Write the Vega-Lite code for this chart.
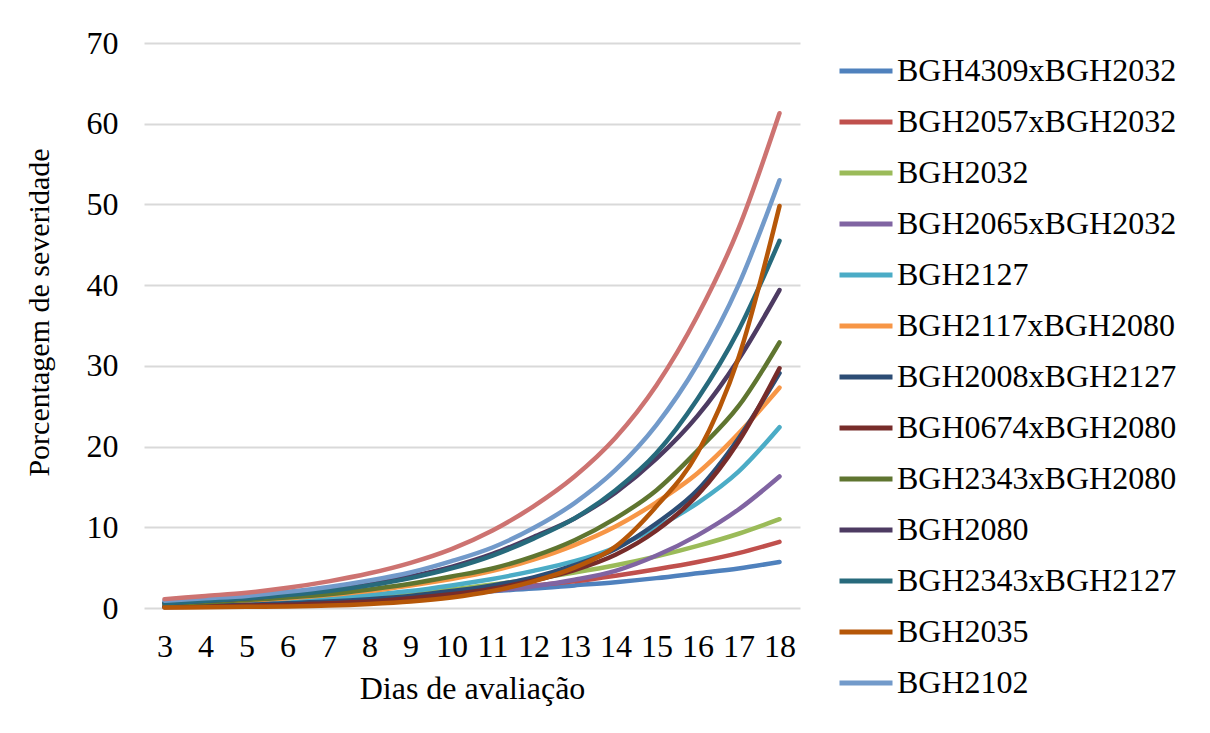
{
  "$schema": "https://vega.github.io/schema/vega-lite/v6.json",
  "width": 656,
  "height": 565,
  "autosize": "none",
  "padding": {"left": 144, "top": 43, "right": 410, "bottom": 125},
  "background": "white",
  "config": {
    "view": {"stroke": null},
    "font": "Liberation Serif",
    "axis": {"labelFont": "Liberation Serif", "titleFont": "Liberation Serif", "labelColor": "#000", "titleColor": "#000", "titleFontWeight": "normal"},
    "legend": {"labelFont": "Liberation Serif", "labelColor": "#000"}
  },
  "datasets": {
    "pts": [
      {"s":"BGH4309xBGH2032","d":3,"v":0.7},{"s":"BGH4309xBGH2032","d":4,"v":0.8},{"s":"BGH4309xBGH2032","d":5,"v":0.9},{"s":"BGH4309xBGH2032","d":6,"v":1.1},{"s":"BGH4309xBGH2032","d":7,"v":1.2},{"s":"BGH4309xBGH2032","d":8,"v":1.4},{"s":"BGH4309xBGH2032","d":9,"v":1.6},{"s":"BGH4309xBGH2032","d":10,"v":1.8},{"s":"BGH4309xBGH2032","d":11,"v":2.1},{"s":"BGH4309xBGH2032","d":12,"v":2.4},{"s":"BGH4309xBGH2032","d":13,"v":2.8},{"s":"BGH4309xBGH2032","d":14,"v":3.2},{"s":"BGH4309xBGH2032","d":15,"v":3.7},{"s":"BGH4309xBGH2032","d":16,"v":4.3},{"s":"BGH4309xBGH2032","d":17,"v":4.9},{"s":"BGH4309xBGH2032","d":18,"v":5.7},
      {"s":"BGH2057xBGH2032","d":3,"v":0.5},{"s":"BGH2057xBGH2032","d":4,"v":0.6},{"s":"BGH2057xBGH2032","d":5,"v":0.8},{"s":"BGH2057xBGH2032","d":6,"v":0.9},{"s":"BGH2057xBGH2032","d":7,"v":1.1},{"s":"BGH2057xBGH2032","d":8,"v":1.3},{"s":"BGH2057xBGH2032","d":9,"v":1.6},{"s":"BGH2057xBGH2032","d":10,"v":1.9},{"s":"BGH2057xBGH2032","d":11,"v":2.3},{"s":"BGH2057xBGH2032","d":12,"v":2.8},{"s":"BGH2057xBGH2032","d":13,"v":3.3},{"s":"BGH2057xBGH2032","d":14,"v":4.0},{"s":"BGH2057xBGH2032","d":15,"v":4.8},{"s":"BGH2057xBGH2032","d":16,"v":5.7},{"s":"BGH2057xBGH2032","d":17,"v":6.8},{"s":"BGH2057xBGH2032","d":18,"v":8.2},
      {"s":"BGH2032","d":3,"v":0.4},{"s":"BGH2032","d":4,"v":0.5},{"s":"BGH2032","d":5,"v":0.7},{"s":"BGH2032","d":6,"v":0.9},{"s":"BGH2032","d":7,"v":1.1},{"s":"BGH2032","d":8,"v":1.4},{"s":"BGH2032","d":9,"v":1.8},{"s":"BGH2032","d":10,"v":2.3},{"s":"BGH2032","d":11,"v":2.9},{"s":"BGH2032","d":12,"v":3.6},{"s":"BGH2032","d":13,"v":4.4},{"s":"BGH2032","d":14,"v":5.3},{"s":"BGH2032","d":15,"v":6.4},{"s":"BGH2032","d":16,"v":7.7},{"s":"BGH2032","d":17,"v":9.2},{"s":"BGH2032","d":18,"v":11.0},
      {"s":"BGH2065xBGH2032","d":3,"v":0.2},{"s":"BGH2065xBGH2032","d":4,"v":0.3},{"s":"BGH2065xBGH2032","d":5,"v":0.4},{"s":"BGH2065xBGH2032","d":6,"v":0.5},{"s":"BGH2065xBGH2032","d":7,"v":0.7},{"s":"BGH2065xBGH2032","d":8,"v":0.9},{"s":"BGH2065xBGH2032","d":9,"v":1.2},{"s":"BGH2065xBGH2032","d":10,"v":1.6},{"s":"BGH2065xBGH2032","d":11,"v":2.1},{"s":"BGH2065xBGH2032","d":12,"v":2.7},{"s":"BGH2065xBGH2032","d":13,"v":3.5},{"s":"BGH2065xBGH2032","d":14,"v":4.6},{"s":"BGH2065xBGH2032","d":15,"v":6.5},{"s":"BGH2065xBGH2032","d":16,"v":9.0},{"s":"BGH2065xBGH2032","d":17,"v":12.2},{"s":"BGH2065xBGH2032","d":18,"v":16.3},
      {"s":"BGH2127","d":3,"v":0.3},{"s":"BGH2127","d":4,"v":0.5},{"s":"BGH2127","d":5,"v":0.7},{"s":"BGH2127","d":6,"v":0.9},{"s":"BGH2127","d":7,"v":1.2},{"s":"BGH2127","d":8,"v":1.6},{"s":"BGH2127","d":9,"v":2.1},{"s":"BGH2127","d":10,"v":2.8},{"s":"BGH2127","d":11,"v":3.6},{"s":"BGH2127","d":12,"v":4.6},{"s":"BGH2127","d":13,"v":5.8},{"s":"BGH2127","d":14,"v":7.5},{"s":"BGH2127","d":15,"v":10.0},{"s":"BGH2127","d":16,"v":13.0},{"s":"BGH2127","d":17,"v":16.9},{"s":"BGH2127","d":18,"v":22.4},
      {"s":"BGH2117xBGH2080","d":3,"v":0.4},{"s":"BGH2117xBGH2080","d":4,"v":0.6},{"s":"BGH2117xBGH2080","d":5,"v":0.9},{"s":"BGH2117xBGH2080","d":6,"v":1.2},{"s":"BGH2117xBGH2080","d":7,"v":1.6},{"s":"BGH2117xBGH2080","d":8,"v":2.1},{"s":"BGH2117xBGH2080","d":9,"v":2.8},{"s":"BGH2117xBGH2080","d":10,"v":3.6},{"s":"BGH2117xBGH2080","d":11,"v":4.6},{"s":"BGH2117xBGH2080","d":12,"v":6.0},{"s":"BGH2117xBGH2080","d":13,"v":7.8},{"s":"BGH2117xBGH2080","d":14,"v":10.1},{"s":"BGH2117xBGH2080","d":15,"v":13.1},{"s":"BGH2117xBGH2080","d":16,"v":16.7},{"s":"BGH2117xBGH2080","d":17,"v":21.6},{"s":"BGH2117xBGH2080","d":18,"v":27.3},
      {"s":"BGH2008xBGH2127","d":3,"v":0.2},{"s":"BGH2008xBGH2127","d":4,"v":0.3},{"s":"BGH2008xBGH2127","d":5,"v":0.4},{"s":"BGH2008xBGH2127","d":6,"v":0.6},{"s":"BGH2008xBGH2127","d":7,"v":0.8},{"s":"BGH2008xBGH2127","d":8,"v":1.1},{"s":"BGH2008xBGH2127","d":9,"v":1.5},{"s":"BGH2008xBGH2127","d":10,"v":2.1},{"s":"BGH2008xBGH2127","d":11,"v":2.8},{"s":"BGH2008xBGH2127","d":12,"v":3.8},{"s":"BGH2008xBGH2127","d":13,"v":5.3},{"s":"BGH2008xBGH2127","d":14,"v":7.3},{"s":"BGH2008xBGH2127","d":15,"v":10.5},{"s":"BGH2008xBGH2127","d":16,"v":14.6},{"s":"BGH2008xBGH2127","d":17,"v":21.0},{"s":"BGH2008xBGH2127","d":18,"v":29.1},
      {"s":"BGH0674xBGH2080","d":3,"v":0.1},{"s":"BGH0674xBGH2080","d":4,"v":0.2},{"s":"BGH0674xBGH2080","d":5,"v":0.3},{"s":"BGH0674xBGH2080","d":6,"v":0.4},{"s":"BGH0674xBGH2080","d":7,"v":0.6},{"s":"BGH0674xBGH2080","d":8,"v":0.8},{"s":"BGH0674xBGH2080","d":9,"v":1.2},{"s":"BGH0674xBGH2080","d":10,"v":1.7},{"s":"BGH0674xBGH2080","d":11,"v":2.4},{"s":"BGH0674xBGH2080","d":12,"v":3.4},{"s":"BGH0674xBGH2080","d":13,"v":4.7},{"s":"BGH0674xBGH2080","d":14,"v":6.6},{"s":"BGH0674xBGH2080","d":15,"v":9.6},{"s":"BGH0674xBGH2080","d":16,"v":14.0},{"s":"BGH0674xBGH2080","d":17,"v":20.6},{"s":"BGH0674xBGH2080","d":18,"v":29.7},
      {"s":"BGH2343xBGH2080","d":3,"v":0.5},{"s":"BGH2343xBGH2080","d":4,"v":0.7},{"s":"BGH2343xBGH2080","d":5,"v":1.0},{"s":"BGH2343xBGH2080","d":6,"v":1.3},{"s":"BGH2343xBGH2080","d":7,"v":1.7},{"s":"BGH2343xBGH2080","d":8,"v":2.3},{"s":"BGH2343xBGH2080","d":9,"v":3.0},{"s":"BGH2343xBGH2080","d":10,"v":3.9},{"s":"BGH2343xBGH2080","d":11,"v":4.9},{"s":"BGH2343xBGH2080","d":12,"v":6.4},{"s":"BGH2343xBGH2080","d":13,"v":8.4},{"s":"BGH2343xBGH2080","d":14,"v":11.1},{"s":"BGH2343xBGH2080","d":15,"v":14.6},{"s":"BGH2343xBGH2080","d":16,"v":19.5},{"s":"BGH2343xBGH2080","d":17,"v":25.0},{"s":"BGH2343xBGH2080","d":18,"v":32.9},
      {"s":"BGH2080","d":3,"v":0.6},{"s":"BGH2080","d":4,"v":0.9},{"s":"BGH2080","d":5,"v":1.2},{"s":"BGH2080","d":6,"v":1.7},{"s":"BGH2080","d":7,"v":2.2},{"s":"BGH2080","d":8,"v":2.9},{"s":"BGH2080","d":9,"v":3.9},{"s":"BGH2080","d":10,"v":5.1},{"s":"BGH2080","d":11,"v":6.7},{"s":"BGH2080","d":12,"v":8.8},{"s":"BGH2080","d":13,"v":11.1},{"s":"BGH2080","d":14,"v":14.3},{"s":"BGH2080","d":15,"v":18.5},{"s":"BGH2080","d":16,"v":23.8},{"s":"BGH2080","d":17,"v":30.8},{"s":"BGH2080","d":18,"v":39.4},
      {"s":"BGH2343xBGH2127","d":3,"v":0.6},{"s":"BGH2343xBGH2127","d":4,"v":0.9},{"s":"BGH2343xBGH2127","d":5,"v":1.2},{"s":"BGH2343xBGH2127","d":6,"v":1.6},{"s":"BGH2343xBGH2127","d":7,"v":2.1},{"s":"BGH2343xBGH2127","d":8,"v":2.8},{"s":"BGH2343xBGH2127","d":9,"v":3.7},{"s":"BGH2343xBGH2127","d":10,"v":4.9},{"s":"BGH2343xBGH2127","d":11,"v":6.5},{"s":"BGH2343xBGH2127","d":12,"v":8.6},{"s":"BGH2343xBGH2127","d":13,"v":11.1},{"s":"BGH2343xBGH2127","d":14,"v":14.6},{"s":"BGH2343xBGH2127","d":15,"v":19.2},{"s":"BGH2343xBGH2127","d":16,"v":25.9},{"s":"BGH2343xBGH2127","d":17,"v":34.4},{"s":"BGH2343xBGH2127","d":18,"v":45.5},
      {"s":"BGH2035","d":3,"v":0.05},{"s":"BGH2035","d":4,"v":0.1},{"s":"BGH2035","d":5,"v":0.15},{"s":"BGH2035","d":6,"v":0.2},{"s":"BGH2035","d":7,"v":0.3},{"s":"BGH2035","d":8,"v":0.5},{"s":"BGH2035","d":9,"v":0.8},{"s":"BGH2035","d":10,"v":1.3},{"s":"BGH2035","d":11,"v":2.1},{"s":"BGH2035","d":12,"v":3.3},{"s":"BGH2035","d":13,"v":5.0},{"s":"BGH2035","d":14,"v":7.6},{"s":"BGH2035","d":15,"v":12.6},{"s":"BGH2035","d":16,"v":19.2},{"s":"BGH2035","d":17,"v":31.0},{"s":"BGH2035","d":18,"v":49.8},
      {"s":"BGH2102","d":3,"v":0.9},{"s":"BGH2102","d":4,"v":1.2},{"s":"BGH2102","d":5,"v":1.5},{"s":"BGH2102","d":6,"v":2.0},{"s":"BGH2102","d":7,"v":2.6},{"s":"BGH2102","d":8,"v":3.4},{"s":"BGH2102","d":9,"v":4.4},{"s":"BGH2102","d":10,"v":5.8},{"s":"BGH2102","d":11,"v":7.5},{"s":"BGH2102","d":12,"v":9.9},{"s":"BGH2102","d":13,"v":13.0},{"s":"BGH2102","d":14,"v":17.1},{"s":"BGH2102","d":15,"v":22.7},{"s":"BGH2102","d":16,"v":30.2},{"s":"BGH2102","d":17,"v":40.0},{"s":"BGH2102","d":18,"v":53.0},
      {"s":"Série14","d":3,"v":1.1},{"s":"Série14","d":4,"v":1.5},{"s":"Série14","d":5,"v":1.9},{"s":"Série14","d":6,"v":2.5},{"s":"Série14","d":7,"v":3.3},{"s":"Série14","d":8,"v":4.3},{"s":"Série14","d":9,"v":5.6},{"s":"Série14","d":10,"v":7.3},{"s":"Série14","d":11,"v":9.6},{"s":"Série14","d":12,"v":12.6},{"s":"Série14","d":13,"v":16.3},{"s":"Série14","d":14,"v":21.1},{"s":"Série14","d":15,"v":27.6},{"s":"Série14","d":16,"v":36.2},{"s":"Série14","d":17,"v":47.0},{"s":"Série14","d":18,"v":61.3}
    ]
  },
  "data": {"name": "pts"},
  "mark": {"type": "line", "strokeWidth": 4.5, "strokeCap": "round", "strokeJoin": "round", "interpolate": "monotone"},
  "encoding": {
    "x": {
      "field": "d", "type": "ordinal",
      "scale": {"type": "point", "padding": 0.5},
      "axis": {"title": "Dias de avaliação", "labelAngle": 0, "labelFontSize": 32, "titleFontSize": 32, "domain": false, "ticks": false, "labelPadding": 23, "titlePadding": 11, "grid": false}
    },
    "y": {
      "field": "v", "type": "quantitative",
      "scale": {"domain": [0, 70], "nice": false},
      "axis": {"title": "Porcentagem de severidade", "values": [0,10,20,30,40,50,60,70], "labelFontSize": 32, "titleFontSize": 30, "domain": false, "ticks": false, "labelPadding": 26, "titlePadding": 32, "titleY": 269, "grid": true, "gridColor": "#d9d9d9", "gridWidth": 2}
    },
    "color": {
      "field": "s", "type": "nominal",
      "scale": {
        "domain": ["BGH4309xBGH2032","BGH2057xBGH2032","BGH2032","BGH2065xBGH2032","BGH2127","BGH2117xBGH2080","BGH2008xBGH2127","BGH0674xBGH2080","BGH2343xBGH2080","BGH2080","BGH2343xBGH2127","BGH2035","BGH2102","Série14"],
        "range": ["#4F81BD","#C0504D","#9BBB59","#8064A2","#4BACC6","#F79646","#2C4D75","#772C2A","#5F7530","#4D3B62","#276A7C","#B65708","#729ACA","#CD7371"]
      },
      "legend": {
        "title": null,
        "orient": "none",
        "legendX": 693,
        "legendY": -1,
        "padding": 0,
        "values": ["BGH4309xBGH2032","BGH2057xBGH2032","BGH2032","BGH2065xBGH2032","BGH2127","BGH2117xBGH2080","BGH2008xBGH2127","BGH0674xBGH2080","BGH2343xBGH2080","BGH2080","BGH2343xBGH2127","BGH2035","BGH2102"],
        "symbolType": "stroke",
        "symbolSize": 2809,
        "symbolStrokeWidth": 5,
        "labelFontSize": 32,
        "labelOffset": 2,
        "rowPadding": 6,
        "labelLimit": 400
      }
    }
  }
}
